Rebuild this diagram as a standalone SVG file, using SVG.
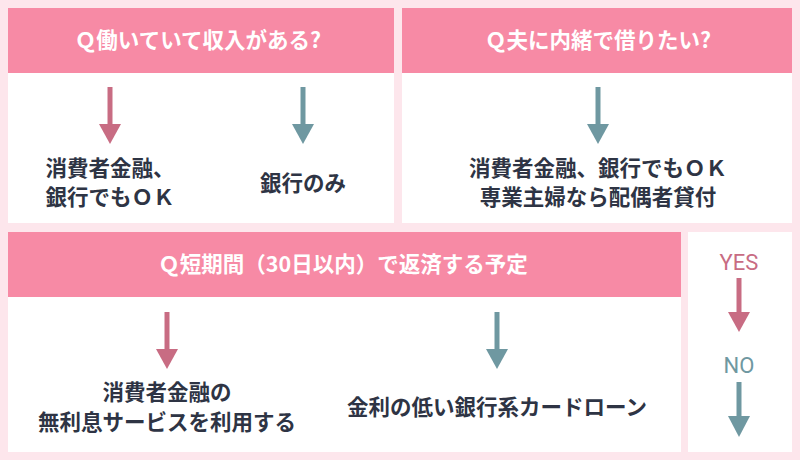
<svg xmlns="http://www.w3.org/2000/svg" width="800" height="460" viewBox="0 0 800 460">
<style>
.panel{fill:#fff}.hd{fill:#f78aa5}
.ht{font-family:"Noto Sans CJK JP",sans-serif;font-size:21.5px;fill:#fff;text-anchor:middle;font-weight:bold}
.bt{font-family:"Noto Sans CJK JP",sans-serif;font-size:21.5px;fill:#2e3444;text-anchor:middle;font-weight:bold}
.pk{stroke:#c86c83;stroke-width:5}.tl{stroke:#6f98a1;stroke-width:5}
.lab{font-family:Roboto,"Noto Sans",sans-serif;font-size:22px;text-anchor:middle}
</style>
<rect width="800" height="460" fill="#fde6ec"/>
<g id="q1">
<rect class="panel" x="8" y="8" width="386" height="215"/><rect class="hd" x="8" y="8" width="386" height="65"/>
<text class="ht" x="198" y="48">Ｑ働いていて収入がある?</text>
<text class="bt" x="110" y="176">消費者金融、</text><text class="bt" x="110" y="205">銀行でもＯＫ</text>
<text class="bt" x="303" y="191">銀行のみ</text>
</g>
<g id="q2">
<rect class="panel" x="402" y="8" width="390" height="215"/><rect class="hd" x="402" y="8" width="390" height="65"/>
<text class="ht" x="598" y="48">Ｑ夫に内緒で借りたい?</text>
<text class="bt" x="598" y="176">消費者金融、銀行でもＯＫ</text><text class="bt" x="598" y="205">専業主婦なら配偶者貸付</text>
</g>
<g id="q3">
<rect class="panel" x="8" y="232" width="673" height="220"/><rect class="hd" x="8" y="232" width="673" height="65"/>
<text class="ht" x="343" y="272">Ｑ短期間（30日以内）で返済する予定</text>
<text class="bt" x="167" y="400">消費者金融の</text><text class="bt" x="167" y="430">無利息サービスを利用する</text>
<text class="bt" x="497" y="415">金利の低い銀行系カードローン</text>
</g>
<g id="legend">
<rect class="panel" x="688" y="232" width="104" height="220"/>
<text class="lab" x="739" y="270" fill="#c86c83">YES</text>
<text class="lab" x="739" y="373" fill="#6f98a1">NO</text>
</g>
<g id="connectors">
<line class="pk" x1="110" y1="87" x2="110" y2="128"/><path d="M99,124 H121 L110,144Z" fill="#c86c83"/>
<line class="tl" x1="303" y1="87" x2="303" y2="128"/><path d="M292,124 H314 L303,144Z" fill="#6f98a1"/>
<line class="tl" x1="598" y1="87" x2="598" y2="128"/><path d="M587,124 H609 L598,144Z" fill="#6f98a1"/>
<line class="pk" x1="167" y1="312" x2="167" y2="353"/><path d="M156,349 H178 L167,369Z" fill="#c86c83"/>
<line class="tl" x1="497" y1="312" x2="497" y2="353"/><path d="M486,349 H508 L497,369Z" fill="#6f98a1"/>
<line class="pk" x1="739" y1="278" x2="739" y2="316"/><path d="M728,312 H750 L739,332Z" fill="#c86c83"/>
<line class="tl" x1="739" y1="382" x2="739" y2="420"/><path d="M728,416 H750 L739,437Z" fill="#6f98a1"/>
</g>
</svg>
